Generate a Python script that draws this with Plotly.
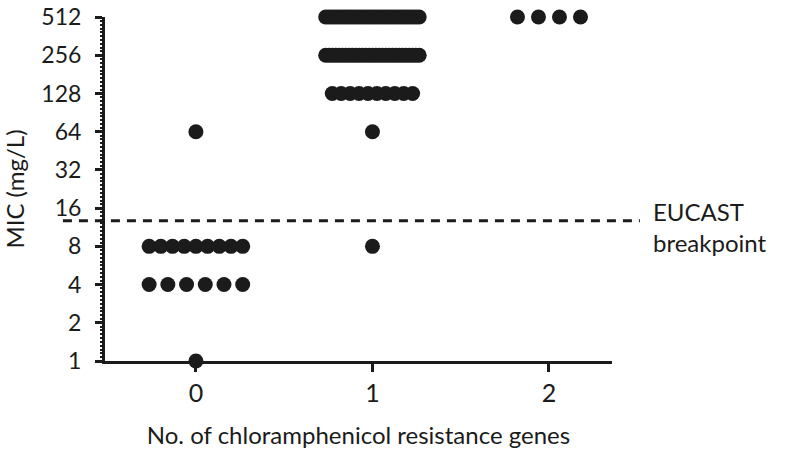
import numpy as np
import plotly.graph_objects as go

# MIC levels (mg/L) and number of isolates at each level per group
mic_levels = [1, 2, 4, 8, 16, 32, 64, 128, 256, 512]
genes = [0, 1, 2]
counts_0 = [1, 0, 6, 9, 0, 0, 1, 0, 0, 0]
counts_1 = [0, 0, 0, 1, 0, 0, 1, 10, 29, 31]
counts_2 = [0, 0, 0, 0, 0, 0, 0, 0, 0, 4]
tick_labels = ["1", "2", "4", "8", "16", "32", "64", "128", "256", "512"]
breakpoint_mic = 12.7

ink = "#1b1b1b"
font = "Lato"
y_range = [0, np.log10(512) + 0.0005]

fig = go.Figure()

# scatter-dot layout: spread each row of points across the column
max_gap = 0.119
col_width = 0.53
narrow_rows = {(1, 128): 0.455}
for g, counts in zip(genes, [counts_0, counts_1, counts_2]):
    xs, ys = [], []
    for mic, n in zip(mic_levels, counts):
        if n == 0:
            continue
        w = narrow_rows.get((g, mic), col_width)
        gap = 0 if n == 1 else min(max_gap, w / (n - 1))
        offs = (np.arange(n) - (n - 1) / 2) * gap
        xs += list(g + offs)
        ys += [mic] * n
    fig.add_trace(go.Scatter(x=xs, y=ys, mode="markers", cliponaxis=False,
                             marker=dict(size=15, color=ink, line=dict(width=0)),
                             showlegend=False, hoverinfo="y"))

# invisible trace so the overlaid minor-tick axis gets drawn
fig.add_trace(go.Scatter(x=[None], y=[None], yaxis="y2", showlegend=False, hoverinfo="skip"))

# EUCAST breakpoint dashed line (runs past both axes)
fig.add_shape(type="line", xref="paper", yref="y", x0=-0.083, x1=1.055,
              y0=breakpoint_mic, y1=breakpoint_mic,
              line=dict(color=ink, width=3, dash="9px,7px"), layer="above")
fig.add_annotation(text="EUCAST<br>breakpoint", xref="paper", yref="paper", x=1.077, y=0.39,
                   xanchor="left", yanchor="middle", align="left", showarrow=False,
                   font=dict(family=font, size=24, color=ink))

minor_vals = [2 ** (k + j / 10) for k in range(9) for j in range(1, 10)]

fig.update_xaxes(range=[-0.515, 2.357], tickvals=genes, ticktext=[str(g) for g in genes],
                 showline=True, linewidth=3, linecolor=ink, ticks="outside", ticklen=8,
                 tickwidth=3, tickcolor=ink, showgrid=False, zeroline=False, automargin=False,
                 tickfont=dict(family=font, size=25, color=ink),
                 title=dict(text="No. of chloramphenicol resistance genes", standoff=22,
                            font=dict(family=font, size=24, color=ink)))
fig.update_layout(
    yaxis=dict(type="log", range=y_range, tickmode="array",
               tickvals=mic_levels, ticktext=tick_labels,
               showline=True, linewidth=3, linecolor=ink, ticks="outside", ticklen=7,
               tickwidth=3, tickcolor=ink, showgrid=False, zeroline=False, automargin=False,
               ticklabelstandoff=9, ticklabeloverflow="allow",
               tickfont=dict(family=font, size=23, color=ink),
               title=dict(text="MIC (mg/L)", standoff=12,
                          font=dict(family=font, size=24, color=ink))),
    yaxis2=dict(type="log", range=y_range, overlaying="y", side="left", tickmode="array",
                tickvals=minor_vals, showticklabels=False, ticks="outside", ticklen=4,
                tickwidth=1.5, tickcolor=ink, showgrid=False, zeroline=False,
                showline=False, automargin=False),
)

fig.update_layout(width=786, height=453, plot_bgcolor="white", paper_bgcolor="white",
                  margin=dict(l=105, r=174, t=17, b=92))
fig.write_html("out.html", config={"displayModeBar": False},
               post_script="document.body.style.margin='0';")
